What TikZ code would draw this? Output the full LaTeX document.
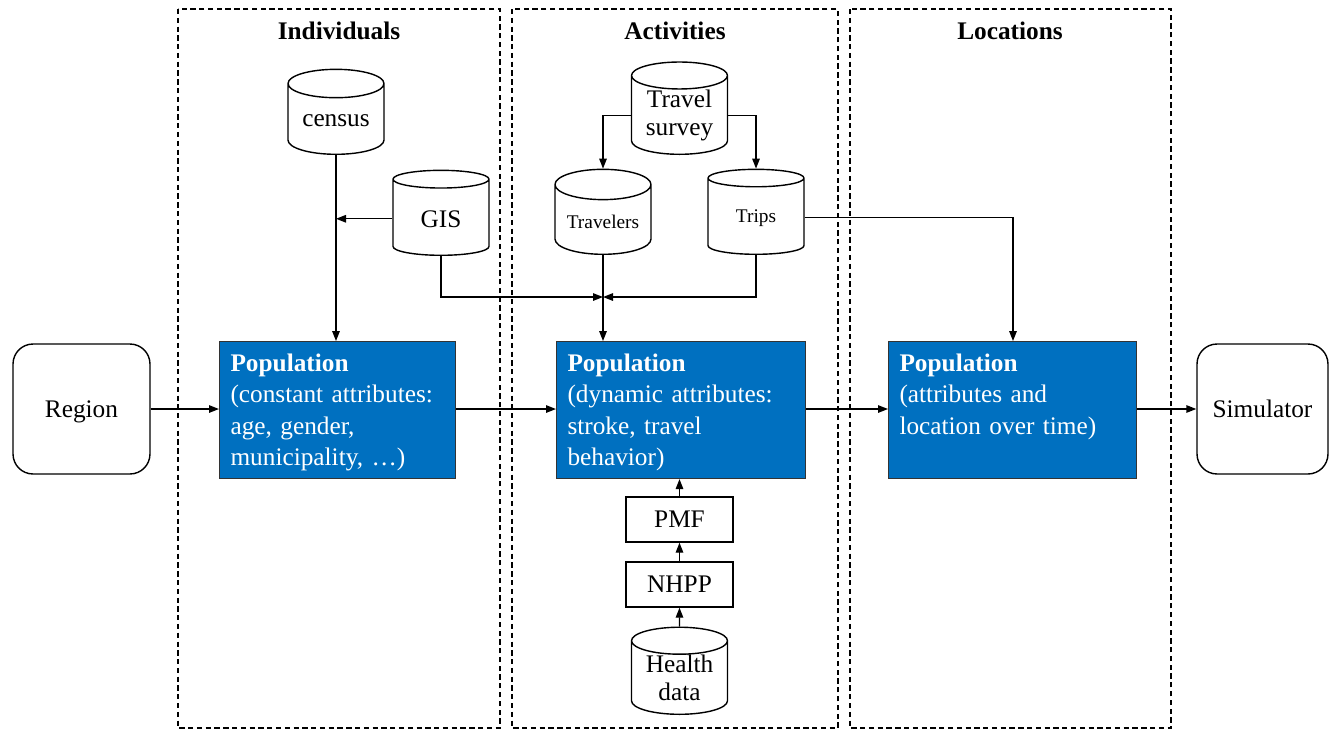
\documentclass[tikz,border=0pt]{standalone}
\usepackage{fontspec}
\setmainfont{Liberation Serif}
\usetikzlibrary{positioning,calc}
\usetikzlibrary{arrows.meta,shapes.geometric}
\definecolor{PopBlue}{RGB}{0,112,192}
\tikzset{
  lane/.style={draw=black,dash pattern=on 3pt off 2pt,line width=0.6pt},
  ttl/.style={font=\fontsize{14.4}{17.6}\selectfont\bfseries},
  db/.style={cylinder,shape border rotate=90,aspect=0.4,draw=black,line width=0.8pt,
    fill=white,minimum width=1.92cm,minimum height=1.7cm,inner sep=1pt,align=center,
    anchor=south,font=\fontsize{14.4}{17.2}\selectfont},
  tightdb/.style={db,inner sep=0pt,font=\fontsize{14.4}{16}\selectfont},
  smalldb/.style={db,font=\fontsize{11}{13}\selectfont},
  popbox/.style={draw=black!80,fill=PopBlue,text=white,line width=0.6pt,align=left,
    inner xsep=0.22cm,inner ysep=0.2cm,text height=0.4cm,text depth=1.94cm,
    font=\fontsize{14.4}{17.8}\selectfont},
  term/.style={draw=black,rounded corners=0.4cm,line width=0.8pt,minimum height=2.6cm,
    text depth=0pt,font=\fontsize{14.4}{17.6}\selectfont},
  proc/.style={draw=black,line width=0.8pt,minimum width=2.14cm,minimum height=0.9cm,
    font=\fontsize{14.4}{17.6}\selectfont},
  link/.style={draw=black,line width=0.8pt,-{Triangle[length=2mm,width=1.5mm]}},
}

\begin{document}
\begin{tikzpicture}[x=0.02cm,y=-0.02cm]
\useasboundingbox (0,0) rectangle (1330,731);
% lanes
\draw[lane] (178,9) rectangle (500,728);
\draw[lane] (512,9) rectangle (838,728);
\draw[lane] (850,9) rectangle (1171,728);
\node[ttl] (tind) at (339,31) {Individuals};
\node[ttl] (tact) at (675,31) {Activities};
\node[ttl] (tloc) at (1010,31) {Locations};
% main chain
\node[term,minimum width=2.74cm] (region) at (81.5,409) {Region};
\node[popbox,text width=4.28cm,anchor=north west] (pop1) at (219,341)
  {\textbf{Population}\\(constant attributes:\\age, gender,\\municipality, \dots)};
\node[popbox,text width=4.54cm,anchor=north west] (pop2) at (556,341)
  {\textbf{Population}\\(dynamic attributes:\\stroke, travel\\behavior)};
\node[popbox,text width=4.52cm,anchor=north west] (pop3) at (888,341)
  {\textbf{Population}\\(attributes and\\location over time)};
\node[term,minimum width=2.62cm] (sim) at (1262.5,409) {Simulator};
% data sources (placed by their bottom)
\node[db] (census) at (336,155) {census};
\node[db] (gis) at (441,256) {GIS};
\node[tightdb] (survey) at (679.5,155) {Travel\\survey};
\node[smalldb] (travelers) at (603,255) {Travelers};
\node[smalldb] (trips) at (756,255) {Trips};
\node[tightdb,minimum height=1.66cm] (health) at (679.5,715) {Health\\data};
\node[proc] (pmf) at (679.5,519.5) {PMF};
\node[proc] (nhpp) at (679.5,584.5) {NHPP};
\coordinate (join) at (603,297);
% connectors
\draw[link] (region) -- (region -| pop1.west);
\draw[link] (pop1.east |- region) -- (pop2.west |- region);
\draw[link] (pop2.east |- region) -- (pop3.west |- region);
\draw[link] (pop3.east |- region) -- (sim);
\draw[link] (census.south) -- (census.south |- pop1.north);
\draw[link] (gis.west) -- (gis.west -| census.south);
\draw[link] (gis.south) |- (join);
\draw[link] (trips.south) |- (join);
\draw[link] (travelers.south) -- (travelers.south |- pop2.north);
\draw[link] (survey.west) -| (travelers.north);
\draw[link] (survey.east) -| (trips.north);
\draw[link] (trips.east) -| (1013,341);
\draw[link] (health.north) -- (nhpp.south);
\draw[link] (nhpp.north) -- (pmf.south);
\draw[link] (pmf.north) -- (pmf.north |- pop2.south);
\end{tikzpicture}
\end{document}
